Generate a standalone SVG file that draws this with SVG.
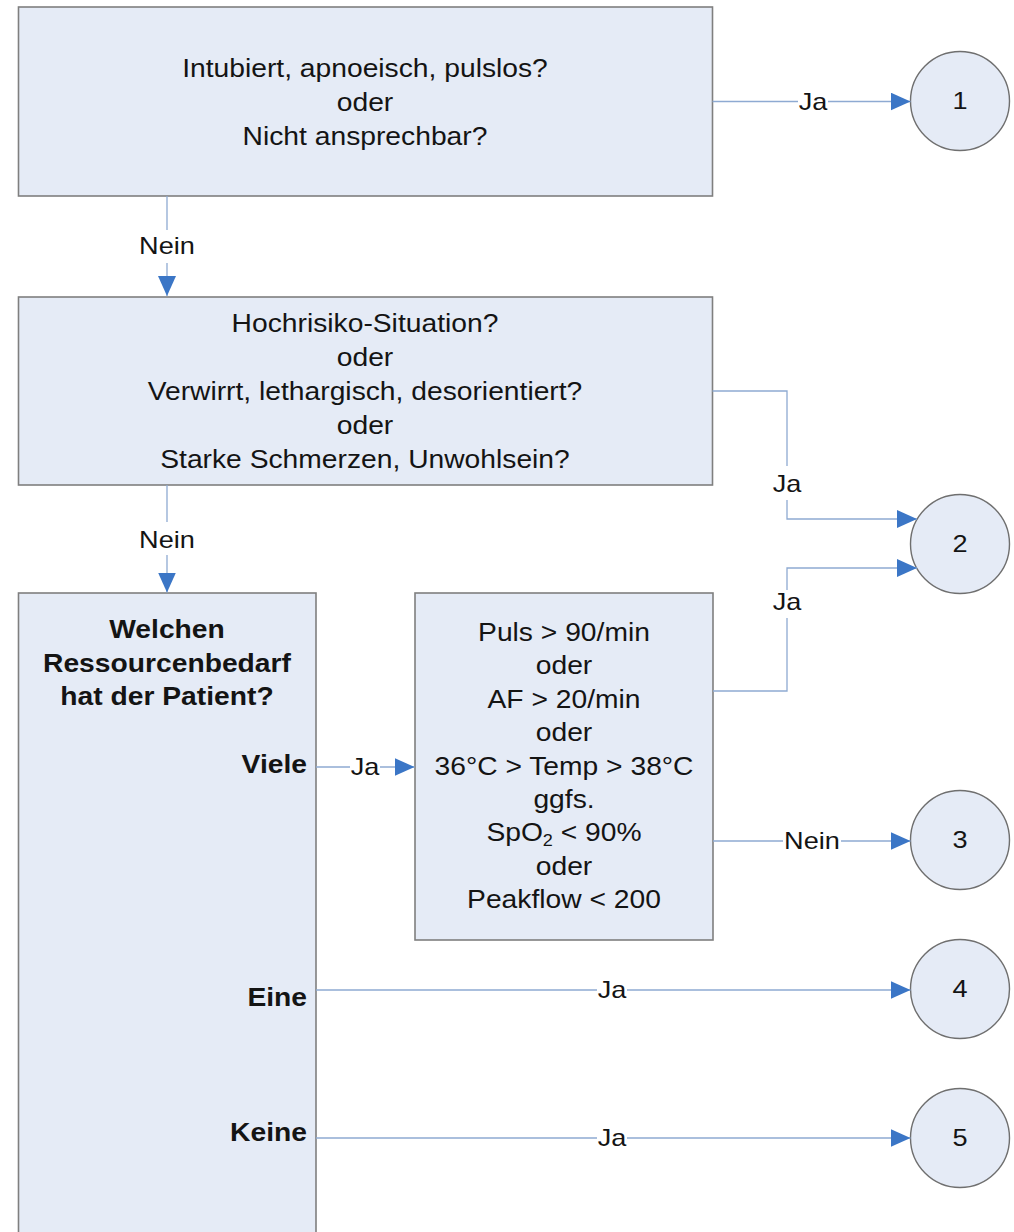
<svg xmlns="http://www.w3.org/2000/svg" width="1014" height="1232" viewBox="0 0 1014 1232">
  <defs>
    <style>
      .box { fill: #e5ebf6; stroke: #7f7f7f; stroke-width: 1.6; }
      .end { fill: #e5ebf6; stroke: #6f6f6f; stroke-width: 1.4; }
      .wire { fill: none; stroke: #8eaad2; stroke-width: 1.3; }
      .gap { fill: #ffffff; }
      text { font-family: "Liberation Sans", Arial, sans-serif; fill: #141414;
             transform-box: fill-box; transform-origin: center; transform: scaleX(1.13); }
      .q { font-size: 25px; text-anchor: middle; }
      .b { font-size: 25px; font-weight: bold; text-anchor: middle; }
      .r { font-size: 25px; font-weight: bold; text-anchor: end; transform-origin: right; }
      .lbl { font-size: 24px; text-anchor: middle; }
      .num { font-size: 24px; text-anchor: middle; }
    </style>
    <marker id="arrow" viewBox="0 0 20 18" refX="20" refY="9" markerWidth="20" markerHeight="18" markerUnits="userSpaceOnUse" orient="auto">
      <path d="M0,0 L20,9 L0,18 Z" fill="#3b76c6"/>
    </marker>
  </defs>

  <rect width="1014" height="1232" fill="#ffffff"/>

  <!-- decision boxes -->
  <g id="q-vital">
    <rect class="box" x="18.5" y="7" width="694" height="189"/>
    <text class="q" x="365" y="77">Intubiert, apnoeisch, pulslos?</text>
    <text class="q" x="365" y="111">oder</text>
    <text class="q" x="365" y="145">Nicht ansprechbar?</text>
  </g>

  <g id="q-risk">
    <rect class="box" x="18.5" y="297" width="694" height="188"/>
    <text class="q" x="365" y="332">Hochrisiko-Situation?</text>
    <text class="q" x="365" y="366">oder</text>
    <text class="q" x="365" y="400">Verwirrt, lethargisch, desorientiert?</text>
    <text class="q" x="365" y="434">oder</text>
    <text class="q" x="365" y="468">Starke Schmerzen, Unwohlsein?</text>
  </g>

  <g id="q-resources">
    <rect class="box" x="18.5" y="593" width="297.5" height="660"/>
    <text class="b" x="167" y="638">Welchen</text>
    <text class="b" x="167" y="672">Ressourcenbedarf</text>
    <text class="b" x="167" y="705">hat der Patient?</text>
    <text class="r" x="307" y="773">Viele</text>
    <text class="r" x="307" y="1006">Eine</text>
    <text class="r" x="307" y="1141">Keine</text>
  </g>

  <g id="q-vitals">
    <rect class="box" x="415" y="593" width="298" height="347"/>
    <text class="q" x="564" y="641">Puls &gt; 90/min</text>
    <text class="q" x="564" y="674.4">oder</text>
    <text class="q" x="564" y="707.8">AF &gt; 20/min</text>
    <text class="q" x="564" y="741.2">oder</text>
    <text class="q" x="564" y="774.6">36°C &gt; Temp &gt; 38°C</text>
    <text class="q" x="564" y="808">ggfs.</text>
    <text class="q" x="564" y="841.4">SpO<tspan font-size="16" dy="5">2</tspan><tspan dy="-5"> &lt; 90%</tspan></text>
    <text class="q" x="564" y="874.8">oder</text>
    <text class="q" x="564" y="908.2">Peakflow &lt; 200</text>
  </g>

  <!-- triage levels -->
  <g id="level-1"><circle class="end" cx="960" cy="101" r="49.5"/><text class="num" x="960" y="109.5">1</text></g>
  <g id="level-2"><circle class="end" cx="960" cy="544" r="49.5"/><text class="num" x="960" y="552.5">2</text></g>
  <g id="level-3"><circle class="end" cx="960" cy="840" r="49.5"/><text class="num" x="960" y="848.5">3</text></g>
  <g id="level-4"><circle class="end" cx="960" cy="989" r="49.5"/><text class="num" x="960" y="997.5">4</text></g>
  <g id="level-5"><circle class="end" cx="960" cy="1138" r="49.5"/><text class="num" x="960" y="1146.5">5</text></g>

  <!-- connectors -->
  <g id="connectors">
    <path class="wire" d="M712.5,101.5 H910.5" marker-end="url(#arrow)"/>
    <path class="wire" d="M167,196 V296" marker-end="url(#arrow)"/>
    <path class="wire" d="M712.5,391 H787 V519 H917" marker-end="url(#arrow)"/>
    <path class="wire" d="M167,485 V592.5" marker-end="url(#arrow)"/>
    <path class="wire" d="M713,691 H787 V568 H917" marker-end="url(#arrow)"/>
    <path class="wire" d="M316,767 H414.5" marker-end="url(#arrow)"/>
    <path class="wire" d="M713,841 H910.5" marker-end="url(#arrow)"/>
    <path class="wire" d="M316,990 H910.5" marker-end="url(#arrow)"/>
    <path class="wire" d="M316,1138 H910.5" marker-end="url(#arrow)"/>

    <rect class="gap" x="798" y="90" width="30" height="24"/>
    <text class="lbl" x="813" y="110">Ja</text>

    <rect class="gap" x="138" y="230" width="58" height="33"/>
    <text class="lbl" x="167" y="254">Nein</text>

    <rect class="gap" x="772" y="466" width="30" height="34"/>
    <text class="lbl" x="787" y="492">Ja</text>

    <rect class="gap" x="138" y="522" width="58" height="33"/>
    <text class="lbl" x="167" y="548">Nein</text>

    <rect class="gap" x="772" y="590" width="30" height="28"/>
    <text class="lbl" x="787" y="610">Ja</text>

    <rect class="gap" x="350" y="755" width="30" height="24"/>
    <text class="lbl" x="365" y="775">Ja</text>

    <rect class="gap" x="783" y="829" width="58" height="24"/>
    <text class="lbl" x="812" y="849">Nein</text>

    <rect class="gap" x="597" y="978" width="30" height="24"/>
    <text class="lbl" x="612" y="998">Ja</text>

    <rect class="gap" x="597" y="1126" width="30" height="24"/>
    <text class="lbl" x="612" y="1146">Ja</text>
  </g>
</svg>
